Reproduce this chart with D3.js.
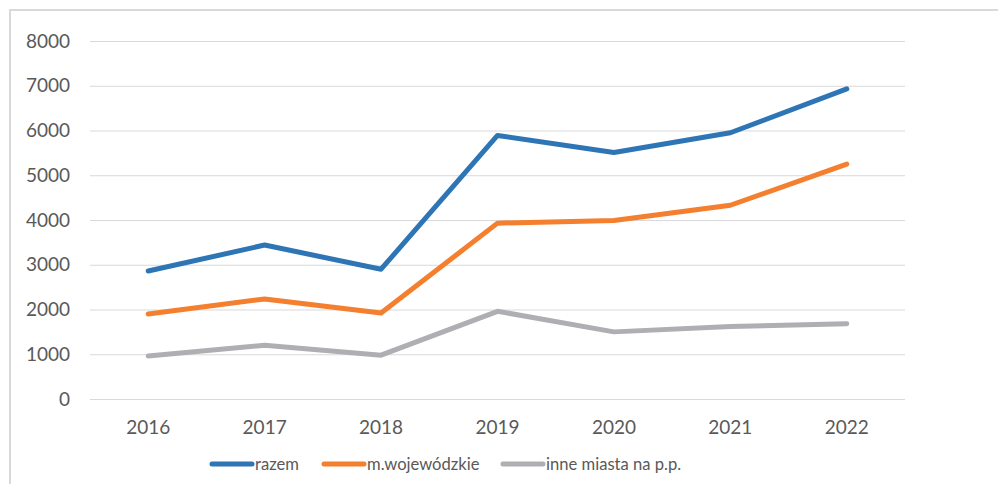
<!DOCTYPE html>
<html lang="pl">
<head>
    <meta charset="UTF-8">
    <title>razem / m.wojewódzkie / inne miasta na p.p.</title>
    <script src="https://d3js.org/d3.v7.min.js"></script>
    <style>
        body {
            margin: 0;
            background: #fff;
            font-family: 'Lato', 'Open Sans', sans-serif;
        }
        .tick text, .legend text {
            fill: #595959;
        }
        .grid line {
            stroke: #d9d9d9;
            stroke-width: 1.2;
        }
        .grid path { stroke: none; }
    </style>
</head>
<body>
    <div id="chart"></div>
    <script>
        // data
        const years = ["2016", "2017", "2018", "2019", "2020", "2021", "2022"];
        const razem = [2860, 3440, 2900, 5890, 5510, 5950, 6930];
        const wojewodzkie = [1900, 2235, 1920, 3930, 3990, 4330, 5250];
        const inneMiasta = [960, 1200, 980, 1960, 1500, 1620, 1680];
        const yTicks = [0, 1000, 2000, 3000, 4000, 5000, 6000, 7000, 8000];

        const series = [
            { name: "razem", values: razem, color: "#2E75B6" },
            { name: "m.wojewódzkie", values: wojewodzkie, color: "#F47F2F" },
            { name: "inne miasta na p.p.", values: inneMiasta, color: "#AFAFB3" }
        ];

        const W = 998, H = 484;
        const margin = { top: 41, right: 93, bottom: 85, left: 90 };
        const width = W - margin.left - margin.right;
        const height = H - margin.top - margin.bottom;

        const root = d3.select("#chart")
            .append("svg")
            .attr("width", W)
            .attr("height", H);

        // outer frame (cropped on the right and bottom)
        root.append("rect")
            .attr("x", 10)
            .attr("y", 10)
            .attr("width", W)
            .attr("height", H)
            .attr("fill", "none")
            .attr("stroke", "#d9d9d9")
            .attr("stroke-width", 2);

        const svg = root.append("g")
            .attr("transform", `translate(${margin.left},${margin.top})`);

        const x = d3.scaleBand()
            .domain(years)
            .range([0, width]);

        const y = d3.scaleLinear()
            .domain([0, 8000])
            .range([height, 0]);

        // gridlines
        svg.append("g")
            .attr("class", "grid")
            .call(d3.axisLeft(y).tickValues(yTicks).tickSize(-width).tickFormat(""));

        // y axis labels
        const yAxis = svg.append("g")
            .call(d3.axisLeft(y).tickValues(yTicks).tickSize(0).tickPadding(20).tickFormat(d3.format("d")));
        yAxis.select(".domain").remove();
        yAxis.selectAll("text")
            .style("font-size", "19px")
            .style("font-family", "Lato, sans-serif");

        // x axis labels
        const xAxis = svg.append("g")
            .attr("transform", `translate(0,${height})`)
            .call(d3.axisBottom(x).tickSize(0).tickPadding(22));
        xAxis.select(".domain").remove();
        xAxis.selectAll("text")
            .style("font-size", "19px")
            .style("font-family", "Lato, sans-serif");

        const line = d3.line()
            .x((d, i) => x(years[i]) + x.bandwidth() / 2)
            .y(d => y(d));

        svg.selectAll(".series")
            .data(series)
            .enter()
            .append("path")
            .attr("class", "series")
            .attr("fill", "none")
            .attr("stroke", d => d.color)
            .attr("stroke-width", 5)
            .attr("stroke-linecap", "round")
            .attr("stroke-linejoin", "round")
            .attr("d", d => line(d.values));

        // legend
        const legendX = [212, 324, 503];
        const legend = root.append("g").attr("class", "legend");
        const items = legend.selectAll("g")
            .data(series)
            .enter()
            .append("g")
            .attr("transform", (d, i) => `translate(${legendX[i]},464)`);
        items.append("line")
            .attr("x1", 0)
            .attr("x2", 40)
            .attr("stroke", d => d.color)
            .attr("stroke-width", 5)
            .attr("stroke-linecap", "round");
        items.append("text")
            .attr("x", 43)
            .attr("dy", "0.35em")
            .style("font-size", "16.6px")
            .text(d => d.name);
    </script>
</body>
</html>
